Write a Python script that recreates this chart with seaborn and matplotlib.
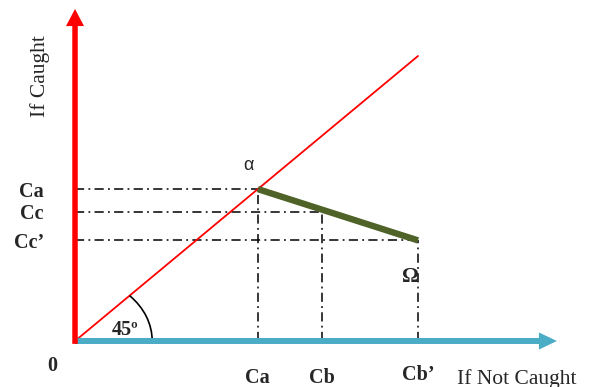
import matplotlib
matplotlib.use("Agg")
import matplotlib.pyplot as plt
import seaborn as sns
from matplotlib.patches import Arc

# Cost levels on the two axes
Ca = 5.33        # cost at the 45-degree point alpha
Cb = 7.2
Cb_prime = 10.0
Cc = 4.54
Cc_prime = 3.53

# 45-degree line extent
diag_x = [0.0, 10.0]
diag_y = [0.0, 10.0]

# Segment from alpha to omega
seg_x = [Ca, Cb_prime]
seg_y = [Ca, Cc_prime]

left_labels = ["Ca", "Cc", "Cc\u2019"]
left_levels = [Ca, Cc, Cc_prime]
bottom_labels = ["Ca", "Cb", "Cb\u2019"]
bottom_levels = [Ca, Cb, Cb_prime]

sns.set_theme(style="white")
plt.rcParams["font.family"] = ["Liberation Serif", "DejaVu Serif"]

fig = plt.figure(figsize=(6.0, 3.87), dpi=100)
ax = fig.add_axes([0, 0, 1, 1])
ax.set_xlim(-2.187, 15.306)
ax.set_ylim(-1.614, 11.965)
ax.set_axis_off()

red = "#FF0000"
blue = "#4BACC6"
olive = "#4F6228"
dashdot = (0, (6, 2.8, 1.2, 2.8))

# Guide lines from the cost levels
hl_ends = [Ca, Cb, Cb_prime]
for lvl, xe in zip(left_levels, hl_ends):
    ax.hlines(lvl, 0, xe, colors="black", linestyles=dashdot, lw=1.1, zorder=1)
for xv, top in zip(bottom_levels, left_levels):
    ax.vlines(xv, 0, top, colors="black", linestyles=dashdot, lw=1.1, zorder=1)

# 45-degree line and the alpha-omega segment
sns.lineplot(x=diag_x, y=diag_y, color=red, lw=1.3, ax=ax, zorder=2)
sns.lineplot(x=seg_x, y=seg_y, color=olive, lw=4.6, ax=ax, zorder=3,
             solid_capstyle="butt")

# Axes as thick arrows
ax.arrow(0, 0, 14.05, 0, width=0.21, head_width=0.6, head_length=0.525,
         length_includes_head=True, color=blue, lw=0, zorder=4)
ax.arrow(0, -0.1, 0, 11.75, width=0.16, head_width=0.525, head_length=0.6,
         length_includes_head=True, color=red, lw=0, zorder=5)

# 45 degree arc
ax.add_patch(Arc((0, 0), 4.5, 4.5, theta1=0, theta2=45, color="black",
                 lw=1.2, zorder=3))
ax.text(1.45, 0.39, "45\u00ba", fontsize=14.5, fontweight="bold",
        ha="center", va="center")

# Cost labels
ytr = ax.get_yaxis_transform()
for lab, lvl in zip(left_labels, left_levels):
    ax.text(0.0733, lvl, lab, transform=ytr, fontsize=14.5, fontweight="bold",
            ha="right", va="center_baseline")

xtr = ax.get_xaxis_transform()
bottom_base = [0.011, 0.011, 0.019]
for lab, xv, yb in zip(bottom_labels, bottom_levels, bottom_base):
    ax.text(xv, yb, lab, transform=xtr, fontsize=14.5, fontweight="bold",
            ha="center", va="baseline")

ax.text(52.5 / 600, 1 - 366 / 387, "0", transform=ax.transAxes, fontsize=14.5,
        fontweight="bold", ha="center", va="center")
ax.text(457 / 600, 0.009, "If Not Caught", transform=ax.transAxes,
        fontsize=15.5, ha="left", va="baseline")
ax.text(40 / 600, 1 - 76 / 387, "If Caught", transform=ax.transAxes,
        fontsize=15.5, ha="center", va="center", rotation=90)

# Point labels
ax.annotate("\u03b1", xy=(Ca, Ca), xytext=(-7, 17), textcoords="offset points",
            fontsize=13, family="Liberation Sans", ha="center", va="center")
ax.annotate("\u03a9", xy=(Cb_prime, Cc_prime), xytext=(-5.5, -26),
            textcoords="offset points", fontsize=15, fontweight="bold",
            ha="center", va="center")

fig.savefig("out.png", dpi=100)
